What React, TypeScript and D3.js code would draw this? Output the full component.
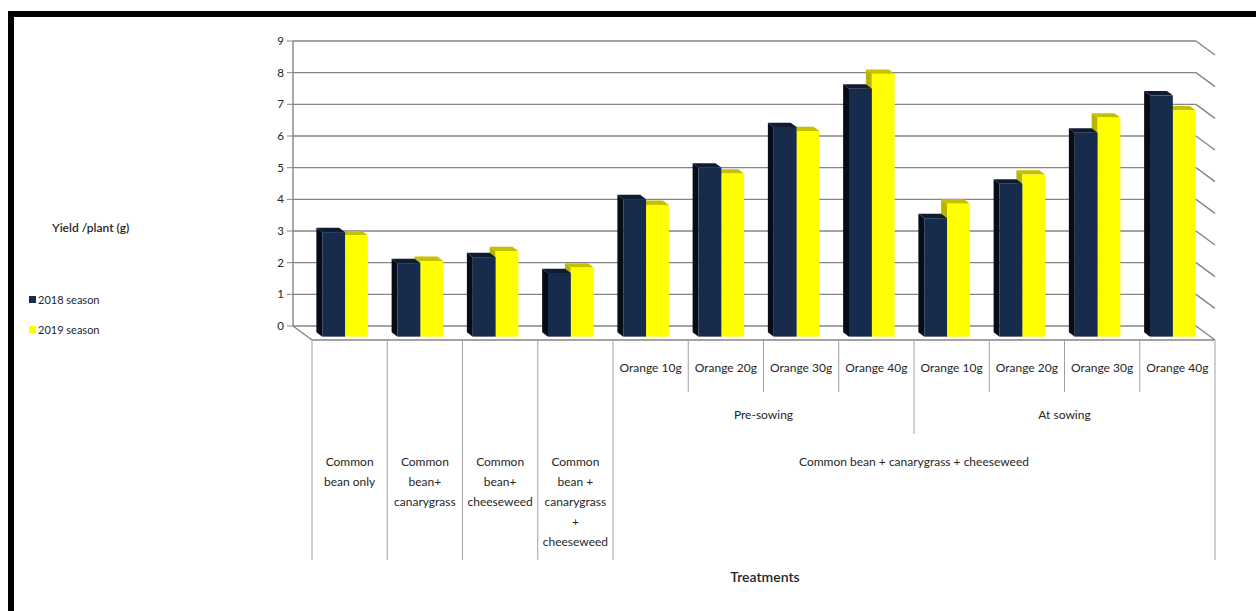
import { scaleBand, scaleLinear } from 'd3';

// Yield per plant (g), two seasons, 12 treatments
const SERIES = ['2018 season', '2019 season'];
const SOLE_LABELS = [
  ['Common', 'bean only'],
  ['Common', 'bean+', 'canarygrass'],
  ['Common', 'bean+', 'cheeseweed'],
  ['Common', 'bean +', 'canarygrass', '+', 'cheeseweed'],
];
const DOSES = ['Orange 10g', 'Orange 20g', 'Orange 30g', 'Orange 40g'];
const TIMINGS = ['Pre-sowing', 'At sowing'];
const GROUP_LABEL = 'Common bean + canarygrass + cheeseweed';
const CATEGORIES = [
  ...SOLE_LABELS.map((l) => l.join(' ')),
  ...TIMINGS.flatMap((t) => DOSES.map((d) => `${t} ${d}`)),
];
const S2018 = [3.3, 2.32, 2.51, 2.01, 4.34, 5.34, 6.62, 7.83, 3.74, 4.83, 6.44, 7.62];
const S2019 = [3.2, 2.39, 2.7, 2.18, 4.16, 5.15, 6.49, 8.3, 4.2, 5.12, 6.92, 7.15];
const Y_TICKS = [0, 1, 2, 3, 4, 5, 6, 7, 8, 9];

const W = 1256;
const H = 611;
const WALL = { left: 293, right: 1196, top: 41, bottom: 326 };
const DX = 19;               // floor depth, horizontal
const DY = 14;               // floor depth, vertical
const BAR_BACK = 0.45;       // bar depth as fraction of floor depth
const BAR_FRONT = 0.76;
const TABLE_BOTTOM = 560;
const FONT = "Lato, 'Open Sans', sans-serif";
const TEXT = '#262626';
const GRID = '#858585';

const COLORS = [
  { front: '#172b4d', side: '#070d18', top: '#0f1b30' },
  { front: '#ffff00', side: '#b8b400', top: '#c6c000' },
];

export default function App() {
  const y = scaleLinear().domain([0, 9]).range([WALL.bottom, WALL.top]);
  const x0 = scaleBand<string>().domain(CATEGORIES).range([WALL.left, WALL.right]).padding(0);
  const x1 = scaleBand<string>().domain(SERIES).range([0, x0.bandwidth()]).paddingInner(0).paddingOuter(0.65);
  const values = [S2018, S2019];

  const floorY = WALL.bottom + DY;
  const fx = (i: number) => (i < CATEGORIES.length ? (x0(CATEGORIES[i]) as number) : WALL.right) + DX;
  const fcx = (i: number) => (x0(CATEGORIES[i]) as number) + x0.bandwidth() / 2 + DX;

  const bar = (cat: string, s: number, v: number) => {
    const xw = (x0(cat) as number) + (x1(SERIES[s]) as number);
    const w = x1.bandwidth();
    const bx = xw + BAR_BACK * DX;
    const fxx = xw + BAR_FRONT * DX;
    const tb = y(v) + BAR_BACK * DY;
    const tf = y(v) + BAR_FRONT * DY;
    const bb = y(0) + BAR_BACK * DY;
    const bf = y(0) + BAR_FRONT * DY;
    const c = COLORS[s];
    return (
      <g key={`${cat}-${s}`}>
        <polygon points={`${bx},${tb} ${fxx},${tf} ${fxx},${bf} ${bx},${bb}`} fill={c.side} />
        <polygon points={`${bx},${tb} ${bx + w},${tb} ${fxx + w},${tf} ${fxx},${tf}`} fill={c.top} />
        <rect x={fxx} y={tf} width={w} height={bf - tf} fill={c.front} />
      </g>
    );
  };

  return (
    <div style={{ position: 'absolute', left: 0, top: 0 }}>
      <svg width={W} height={H} style={{ display: 'block', background: '#fff' }}>
        {/* frame */}
        <rect x={8} y={11} width={W - 8} height={6} fill="#000" />
        <rect x={8} y={11} width={6} height={H - 11} fill="#000" />

        {/* back wall gridlines + side wall slants */}
        {Y_TICKS.map((t) => (
          <g key={t}>
            <line x1={WALL.left} x2={WALL.right} y1={y(t)} y2={y(t)} stroke={GRID} strokeWidth={1.4} />
            <line x1={WALL.right} x2={WALL.right + DX} y1={y(t)} y2={y(t) + DY} stroke={GRID} strokeWidth={1.4} />
            <line x1={WALL.left - 6} x2={WALL.left} y1={y(t)} y2={y(t)} stroke={GRID} strokeWidth={1} />
            <text x={WALL.left - 9} y={y(t) + 4} textAnchor="end" fontFamily={FONT} fontSize={11.5} fill={TEXT}>
              {t}
            </text>
          </g>
        ))}
        <line x1={WALL.left} x2={WALL.left} y1={WALL.top} y2={WALL.bottom} stroke={GRID} strokeWidth={1.4} />
        {/* floor */}
        <line x1={WALL.left} x2={WALL.left + DX} y1={WALL.bottom} y2={floorY} stroke={GRID} strokeWidth={1.4} />
        <line x1={WALL.left + DX} x2={WALL.right + DX} y1={floorY} y2={floorY} stroke={GRID} strokeWidth={1.4} />

        {/* bars: yellow first so the navy bar's side face sits in front */}
        {CATEGORIES.map((cat, i) => (
          <g key={cat}>
            {bar(cat, 1, values[1][i])}
            {bar(cat, 0, values[0][i])}
          </g>
        ))}

        {/* category table */}
        {CATEGORIES.map((_, i) => i).concat([CATEGORIES.length]).map((i) => {
          let y2 = TABLE_BOTTOM;
          if (i > 4 && i < CATEGORIES.length) y2 = i === 8 ? 434 : 392;
          return <line key={i} x1={fx(i)} x2={fx(i)} y1={floorY} y2={y2} stroke="#a0a0a0" strokeWidth={1} />;
        })}
        {CATEGORIES.slice(4).map((cat, k) => (
          <text key={cat} x={fcx(k + 4)} y={372} textAnchor="middle" fontFamily={FONT} fontSize={12} fill={TEXT}>
            {DOSES[k % DOSES.length]}
          </text>
        ))}
        {TIMINGS.map((t, k) => (
          <text
            key={t}
            x={(fx(4 + k * 4) + fx(8 + k * 4)) / 2}
            y={419}
            textAnchor="middle"
            fontFamily={FONT}
            fontSize={12}
            fill={TEXT}
          >
            {t}
          </text>
        ))}
        <text x={(fx(4) + fx(12)) / 2} y={466} textAnchor="middle" fontFamily={FONT} fontSize={12} fill={TEXT}>
          {GROUP_LABEL}
        </text>
        {SOLE_LABELS.map((lines, i) => (
          <text key={i} textAnchor="middle" fontFamily={FONT} fontSize={12} fill={TEXT}>
            {lines.map((l, j) => (
              <tspan key={j} x={fcx(i)} y={466 + j * 20}>
                {l}
              </tspan>
            ))}
          </text>
        ))}

        {/* axis titles */}
        <text x={765} y={582} textAnchor="middle" fontFamily={FONT} fontSize={14} fontWeight={600} fill={TEXT}>
          Treatments
        </text>
        <text x={52} y={232} fontFamily={FONT} fontSize={12} fontWeight={600} fill={TEXT}>
          Yield /plant (g)
        </text>

        {/* legend */}
        {SERIES.map((s, k) => (
          <g key={s}>
            <rect x={29} y={296 + k * 30} width={7} height={7} fill={COLORS[k].front} />
            <text x={38} y={304 + k * 30} fontFamily={FONT} fontSize={11} fill={TEXT}>
              {s}
            </text>
          </g>
        ))}
      </svg>
    </div>
  );
}
